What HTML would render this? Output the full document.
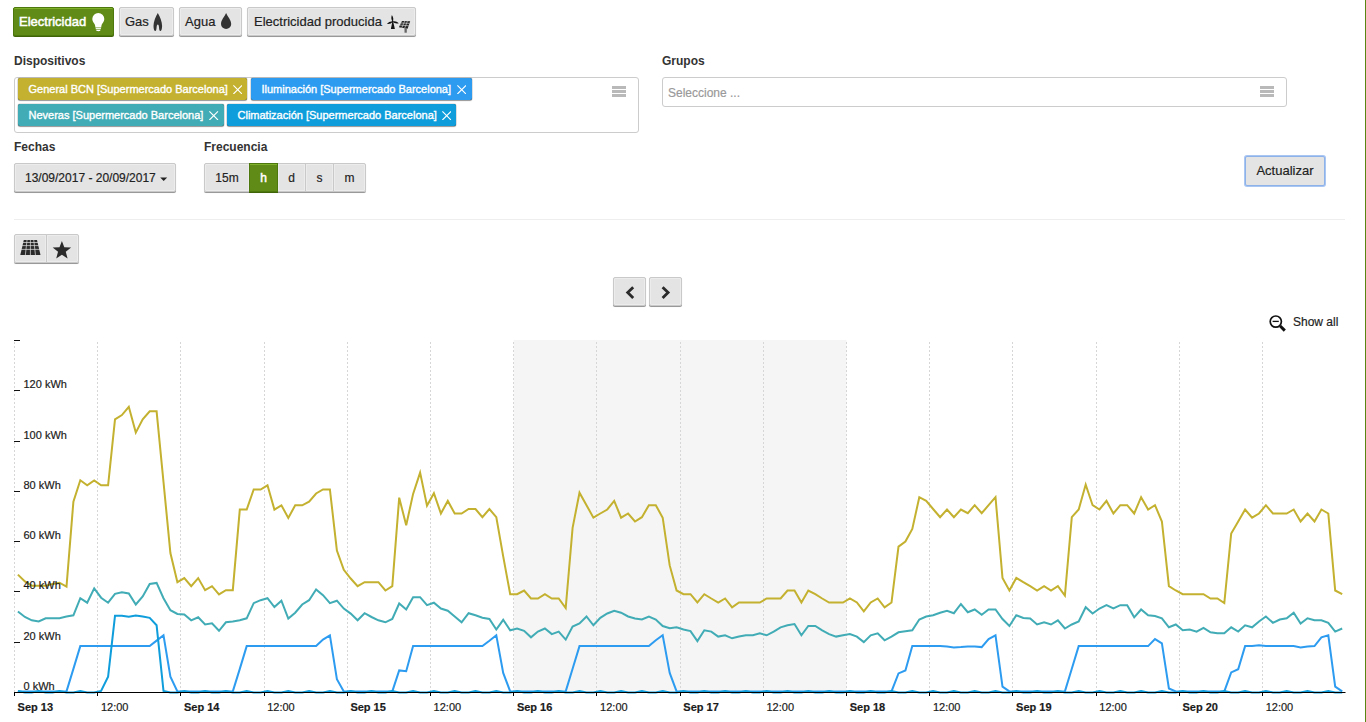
<!DOCTYPE html>
<html lang="es">
<head>
<meta charset="utf-8">
<title>Consumos</title>
<style>
*{box-sizing:border-box;margin:0;padding:0}
html,body{width:1366px;height:722px;overflow:hidden;background:#fff}
body{position:relative;font-family:"Liberation Sans",Arial,sans-serif;font-size:12px;color:#333;-webkit-text-stroke:.18px}
.abs{position:absolute}
.btn{position:absolute;height:29px;border:1px solid #c9c9c9;border-radius:2px;background:#e4e4e4;color:#222;font-size:12px;line-height:29px;text-align:center;box-shadow:0 1px 0 rgba(0,0,0,.33),0 1px 1px rgba(0,0,0,.12),inset 0 0 0 1px rgba(255,255,255,.3);white-space:nowrap}
.btn.b13{font-size:13px;line-height:27px}
.btn.ns{box-shadow:inset 0 0 0 1px rgba(255,255,255,.3)}
.btn.on.ns{box-shadow:inset 0 1px 0 #7fb22a}
.grp{position:absolute;height:29px;border-radius:2px;box-shadow:0 1px 0 rgba(0,0,0,.33),0 1px 1px rgba(0,0,0,.12)}
.btn.on{background:#5f8b16;border-color:#4d780d;color:#fff;box-shadow:0 1px 0 #3f6408,inset 0 1px 0 #7fb22a;-webkit-text-stroke:.5px #fff}
.btn svg{position:absolute}
.lbl{position:absolute;-webkit-text-stroke:0;font-size:12px;font-weight:bold;line-height:14px;color:#333;white-space:nowrap}
.box{position:absolute;border:1px solid #ccc;border-radius:3px;background:#fff}
.tag{position:absolute;height:22px;border-radius:2px;color:#fff;font-size:11px;line-height:22px;white-space:nowrap;padding-left:11px;box-shadow:0 0 1px rgba(0,0,0,.9),0 1px 1px rgba(0,0,0,.35);-webkit-text-stroke:.35px #fff}
.tag svg{position:absolute;right:5.3px;top:7px}
.burger{position:absolute;width:14px;height:11px}
.burger i{display:block;height:3px;background:#b9b9b9;margin-bottom:1px}
#rightline{position:absolute;left:1365px;top:0;width:1px;height:722px;background:#5a8512}
#chart{position:absolute;left:0;top:330px}
#chart text{font-family:"Liberation Sans",Arial,sans-serif;font-size:11px;fill:#1a1a1a;stroke:#1a1a1a;stroke-width:.18px}
#chart text.maj{font-weight:bold}
#icons{position:absolute;left:0;top:0}
</style>
</head>
<body>
<!-- type buttons -->
<div class="btn b13 on" style="left:13px;top:7px;width:101px;text-align:left;padding-left:5px">Electricidad</div>
<div class="btn b13" style="left:119px;top:7px;width:55px;text-align:left;padding-left:5px">Gas</div>
<div class="btn b13" style="left:179px;top:7px;width:63px;text-align:left;padding-left:5px">Agua</div>
<div class="btn b13" style="left:247px;top:7px;width:169px;text-align:left;padding-left:6px">Electricidad producida</div>

<!-- devices -->
<div class="lbl" style="left:14px;top:54px">Dispositivos</div>
<div class="box" style="left:14px;top:77px;width:625px;height:56px"></div>
<div class="tag" style="left:17.500px;top:78px;width:229.700px;background:#c3b12f">General BCN [Supermercado Barcelona]<svg width="9.400" height="9.400" viewBox="0 0 9.400 9.400"><path d="M.4 .4L9 9M9 .4L.4 9" stroke="#fff" stroke-width="1.1" fill="none"/></svg></div>
<div class="tag" style="left:250.500px;top:78px;width:221px;background:#2d9cf0">Iluminación [Supermercado Barcelona]<svg width="9.400" height="9.400" viewBox="0 0 9.400 9.400"><path d="M.4 .4L9 9M9 .4L.4 9" stroke="#fff" stroke-width="1.1" fill="none"/></svg></div>
<div class="tag" style="left:17.500px;top:104px;width:206.500px;background:#41acb5">Neveras [Supermercado Barcelona]<svg width="9.400" height="9.400" viewBox="0 0 9.400 9.400"><path d="M.4 .4L9 9M9 .4L.4 9" stroke="#fff" stroke-width="1.1" fill="none"/></svg></div>
<div class="tag" style="left:226.500px;top:104px;width:229.800px;background:#0f9ddb">Climatización [Supermercado Barcelona]<svg width="9.400" height="9.400" viewBox="0 0 9.400 9.400"><path d="M.4 .4L9 9M9 .4L.4 9" stroke="#fff" stroke-width="1.1" fill="none"/></svg></div>
<div class="burger" style="left:612px;top:86px"><i></i><i></i><i></i></div>

<!-- groups -->
<div class="lbl" style="left:662px;top:54px">Grupos</div>
<div class="box" style="left:662px;top:77px;width:625px;height:30px"></div>
<div class="abs" style="left:668px;top:86px;color:#999;line-height:14px">Seleccione ...</div>
<div class="burger" style="left:1260px;top:86px"><i></i><i></i><i></i></div>

<!-- dates / frequency -->
<div class="lbl" style="left:14px;top:140px">Fechas</div>
<div class="btn" style="left:14px;top:163px;width:162px;text-align:left;padding-left:10px">13/09/2017 - 20/09/2017</div>
<div class="lbl" style="left:204px;top:140px">Frecuencia</div>
<div class="grp" style="left:204px;top:163px;width:162px"></div>
<div class="btn ns" style="left:204px;top:163px;width:46px;border-radius:2px 0 0 2px">15m</div>
<div class="btn ns" style="left:277px;top:163px;width:29px;border-radius:0">d</div>
<div class="btn ns" style="left:305px;top:163px;width:29px;border-radius:0">s</div>
<div class="btn ns" style="left:333px;top:163px;width:33px;border-radius:0 2px 2px 0">m</div>
<div class="btn on ns" style="left:249px;top:163px;width:29px;border-radius:0;box-shadow:0 1px 0 #3f6408,inset 0 1px 0 #7fb22a">h</div>

<div class="btn b13" style="left:1245px;top:156px;width:80px;height:30px;border-color:#8db2ea;box-shadow:0 0 0 1px #a9c6f3">Actualizar</div>

<div class="abs" style="left:14px;top:219px;width:1331px;height:1px;background:#eee"></div>

<!-- icon buttons -->
<div class="grp" style="left:14px;top:234px;width:65px"></div>
<div class="btn ns" style="left:14px;top:234px;width:33px;border-radius:2px 0 0 2px"></div>
<div class="btn ns" style="left:46px;top:234px;width:33px;border-radius:0 2px 2px 0"></div>
<div class="btn" style="left:613px;top:277px;width:33px"></div>
<div class="btn" style="left:649px;top:277px;width:33px"></div>

<div class="abs" style="left:1293px;top:315px;line-height:14px;color:#222">Show all</div>

<!-- all icons in one overlay, page coordinates -->
<svg id="icons" width="1366" height="340" viewBox="0 0 1366 340">
<!-- bulb -->
<path d="M98.3 13.1a6 6 0 0 1 6 6c0 2.6-1.9 3.9-2.6 5.6-.3.8-.4 1.600-.5 2.800h-5.800c-.1-1.200-.2-2-.5-2.800-.7-1.700-2.600-3-2.600-5.600a6 6 0 0 1 6-6z" fill="#fff"/>
<rect x="95.700" y="28.100" width="5.200" height="1.100" fill="#fff"/>
<path d="M96.200 29.800h4.200v.5c0 .5-.9.900-2.100.9s-2.100-.4-2.100-.9z" fill="#fff"/>
<!-- flame -->
<path d="M157.800 13C160 17 162.100 21.500 162.100 26C162.100 29 161.300 31 160.300 31C159.500 31 159.100 29.500 159 27.200C158.900 25.500 158.500 24.400 157.800 24.400C157.100 24.400 156.700 25.500 156.600 27.200C156.500 29.500 156.100 31 155.300 31C154.300 31 153.500 29 153.500 26C153.500 21.500 155.600 17 157.800 13Z" fill="#333"/>
<!-- drop -->
<path d="M226.100 13C227.600 16.600 231.200 20 231.200 23.900A5.100 5.100 0 0 1 221 23.900C221 20 224.600 16.600 226.100 13Z" fill="#333"/>
<!-- wind turbine -->
<g fill="#111">
<path d="M392.70 21.70Q394.24 18.78 391.85 15.00Q390.48 19.26 392.70 21.70Z"/>
<path d="M392.70 21.70Q389.71 20.80 386.90 23.90Q391.05 24.36 392.70 21.70Z"/>
<path d="M392.70 21.70Q394.71 24.18 398.90 23.30Q395.65 20.50 392.70 21.70Z"/>
<path d="M392.200 22.300L393.300 22.300L394.900 29L390.900 29Z"/>
<circle cx="392.700" cy="21.700" r="1"/>
</g>
<!-- solar panel -->
<path d="M402 21L410.200 21.300L407.600 28.700L398.900 27.300Z" fill="#222"/>
<path d="M404.700 21.100L401.800 27.800M407.400 21.200L404.700 28.200M401 23L409.500 23.400M400 25.100L408.800 25.800" stroke="#e4e4e4" stroke-width=".6" fill="none"/>
<rect x="404.500" y="28.200" width="2.300" height="4.500" fill="#666"/>
<!-- caret -->
<path d="M160.200 177.400h7l-3.500 3.700z" fill="#222"/>
<!-- grid icon -->
<g fill="#2b2b2b">
<path d="M23.800 240L37 240L40.500 255L20.300 255Z"/>
</g>
<path d="M27.100 239.500L25.300 255.500M30.400 239.500L30.400 255.500M33.700 239.500L35.500 255.500M22 242.500H39M21 245.600H40M20 249.400H41" stroke="#e4e4e4" stroke-width=".7" fill="none"/>
<!-- star -->
<path d="M61.90 240.90L64.29 247.30L71.13 247.60L65.77 251.86L67.60 258.45L61.90 254.67L56.20 258.45L58.03 251.86L52.67 247.60L59.51 247.30Z" fill="#2b2b2b"/>
<!-- chevrons -->
<path d="M633.200 287.200L627.700 292.600L633.200 298" stroke="#2b2b2b" stroke-width="2.800" fill="none"/>
<path d="M662.600 287.200L668.100 292.600L662.600 298" stroke="#2b2b2b" stroke-width="2.800" fill="none"/>
<!-- zoom out -->
<circle cx="1275.800" cy="321.600" r="5.600" stroke="#111" stroke-width="1.700" fill="none"/>
<path d="M1272.600 321.400H1278.800" stroke="#111" stroke-width="1.300"/>
<path d="M1280.200 326L1284.800 330.600" stroke="#111" stroke-width="3"/>
</svg>

<svg id="chart" width="1366" height="392" viewBox="0 330 1366 392">
<rect x="513.7" y="340" width="332.8" height="352" fill="#f5f5f5"/>
<path d="M14.5 342V692 M97.5 342V692 M180.5 342V692 M264.5 342V692 M347.5 342V692 M430.5 342V692 M513.5 342V692 M596.5 342V692 M680.5 342V692 M763.5 342V692 M846.5 342V692 M929.5 342V692 M1012.5 342V692 M1096.5 342V692 M1179.5 342V692 M1262.5 342V692" stroke="#d6d6d6" stroke-width="1" stroke-dasharray="2,2" fill="none"/>
<path d="M14 642.5H20 M14 591.5H20 M14 541.5H20 M14 491.5H20 M14 441.5H20 M14 390.5H20 M14 340.5H20" stroke="#111" stroke-width="1" fill="none"/>
<polyline points="17.9,574.6 24.9,581.4 31.8,585.7 38.7,585.7 45.7,585.7 52.6,584.0 59.5,582.7 66.5,586.7 73.4,501.6 80.3,480.3 87.2,485.3 94.2,480.5 101.1,485.3 108.1,485.3 115.0,419.3 121.9,415.1 128.8,406.8 135.8,432.6 142.7,419.3 149.7,411.3 156.6,411.3 163.5,482.0 170.4,553.1 177.4,582.2 184.3,578.1 191.2,586.2 198.2,578.1 205.1,590.2 212.0,586.2 219.0,594.4 225.9,590.2 232.8,590.2 239.8,509.6 246.7,509.6 253.7,489.5 260.6,489.5 267.5,485.3 274.4,509.6 281.4,505.3 288.3,517.9 295.2,505.3 302.2,505.3 309.1,501.6 316.1,493.5 323.0,489.5 329.9,489.5 336.9,550.5 343.8,569.8 350.7,578.5 357.6,586.2 364.6,582.2 371.5,582.2 378.4,582.2 385.4,590.5 392.3,586.2 399.2,497.7 406.2,525.3 413.1,493.9 420.1,472.6 427.0,505.7 433.9,493.2 440.9,513.5 447.8,500.9 454.7,513.5 461.6,513.5 468.6,509.0 475.5,509.0 482.4,517.2 489.4,509.0 496.3,517.2 503.2,556.4 510.2,594.2 517.1,594.2 524.1,590.5 531.0,598.5 537.9,598.5 544.9,594.2 551.8,598.5 558.7,598.5 565.7,608.0 572.6,527.8 579.5,492.7 586.5,505.2 593.4,517.7 600.3,513.5 607.3,509.5 614.2,500.9 621.1,517.7 628.1,513.5 635.0,521.5 641.9,517.2 648.9,505.2 655.8,505.2 662.7,517.7 669.7,565.4 676.6,590.5 683.5,594.2 690.5,594.2 697.4,602.5 704.3,594.2 711.3,598.5 718.2,602.5 725.1,598.5 732.1,607.3 739.0,602.5 745.9,602.5 752.9,602.5 759.8,602.5 766.7,598.5 773.7,598.5 780.6,598.5 787.5,590.5 794.5,590.5 801.4,602.5 808.3,590.5 815.3,594.2 822.2,598.5 829.1,602.5 836.1,602.5 843.0,602.5 849.9,598.5 856.9,602.5 863.8,611.3 870.7,602.5 877.7,598.5 884.6,607.3 891.5,602.5 898.5,546.6 905.4,541.6 912.3,529.0 919.3,497.2 926.2,500.9 933.1,509.0 940.1,517.2 947.0,509.5 953.9,517.2 960.9,509.5 967.8,513.2 974.7,505.2 981.7,513.2 988.6,505.2 995.5,497.2 1002.5,577.9 1009.4,590.5 1016.3,577.9 1023.3,582.2 1030.2,586.2 1037.1,590.5 1044.1,586.2 1051.0,590.5 1057.9,586.2 1064.9,595.5 1071.8,517.2 1078.7,509.5 1085.7,484.6 1092.6,505.2 1099.5,509.5 1106.5,500.9 1113.4,513.5 1120.3,505.2 1127.2,505.2 1134.2,513.5 1141.1,497.2 1148.1,509.5 1155.0,505.2 1161.9,521.5 1168.9,586.2 1175.8,590.5 1182.7,594.2 1189.7,594.2 1196.6,594.2 1203.5,594.2 1210.5,598.5 1217.4,598.5 1224.3,603.0 1231.2,533.5 1238.2,521.5 1245.1,509.5 1252.1,517.7 1259.0,513.5 1265.9,505.2 1272.9,513.5 1279.8,513.5 1286.7,513.5 1293.7,509.5 1300.6,521.5 1307.5,513.5 1314.5,521.5 1321.4,509.5 1328.3,513.5 1335.2,590.5 1342.2,594.2" fill="none" stroke="#c3b12f" stroke-width="2" stroke-linejoin="miter" stroke-linecap="butt"/>
<polyline points="17.9,611.5 24.9,617.0 31.8,620.3 38.7,621.5 45.7,618.3 52.6,618.3 59.5,618.3 66.5,616.5 73.4,615.3 80.3,598.2 87.2,602.7 94.2,588.4 101.1,597.7 108.1,602.7 115.0,593.9 121.9,592.2 128.8,593.4 135.8,604.5 142.7,596.4 149.7,583.9 156.6,582.9 163.5,598.2 170.4,610.2 177.4,614.0 184.3,614.5 191.2,620.3 198.2,617.3 205.1,624.5 212.0,623.3 219.0,630.8 225.9,622.3 232.8,621.5 239.8,620.3 246.7,618.3 253.7,603.2 260.6,600.2 267.5,598.2 274.4,607.0 281.4,600.7 288.3,618.5 295.2,612.7 302.2,604.5 309.1,600.2 316.1,589.4 323.0,595.2 329.9,603.2 336.9,600.7 343.8,608.6 350.7,613.6 357.6,620.3 364.6,613.2 371.5,617.0 378.4,620.3 385.4,622.3 392.3,619.0 399.2,603.5 406.2,609.5 413.1,597.2 420.1,597.2 427.0,605.2 433.9,602.7 440.9,608.5 447.8,610.7 454.7,616.5 461.6,622.3 468.6,613.2 475.5,615.3 482.4,617.8 489.4,619.0 496.3,629.5 503.2,619.8 510.2,630.3 517.1,628.5 524.1,630.8 531.0,637.3 537.9,631.6 544.9,628.5 551.8,634.1 558.7,631.6 565.7,639.6 572.6,626.5 579.5,623.5 586.5,616.5 593.4,625.3 600.3,617.8 607.3,613.5 614.2,610.7 621.1,612.7 628.1,616.5 635.0,618.5 641.9,619.5 648.9,616.5 655.8,619.5 662.7,626.0 669.7,628.3 676.6,627.3 683.5,629.5 690.5,631.1 697.4,641.1 704.3,630.3 711.3,631.6 718.2,636.6 725.1,635.3 732.1,638.3 739.0,636.6 745.9,635.3 752.9,635.3 759.8,633.3 766.7,635.3 773.7,631.6 780.6,627.3 787.5,625.3 794.5,624.0 801.4,635.3 808.3,626.0 815.3,626.0 822.2,630.3 829.1,634.1 836.1,636.6 843.0,635.3 849.9,634.1 856.9,636.6 863.8,642.1 870.7,635.3 877.7,633.3 884.6,640.3 891.5,636.6 898.5,632.3 905.4,631.3 912.3,630.3 919.3,619.5 926.2,616.5 933.1,615.3 940.1,612.7 947.0,610.7 953.9,613.2 960.9,604.0 967.8,612.2 974.7,609.5 981.7,614.8 988.6,609.5 995.5,609.5 1002.5,619.0 1009.4,626.0 1016.3,615.3 1023.3,618.0 1030.2,618.5 1037.1,624.5 1044.1,622.3 1051.0,624.5 1057.9,620.3 1064.9,628.5 1071.8,624.5 1078.7,621.5 1085.7,607.2 1092.6,613.5 1099.5,608.5 1106.5,605.2 1113.4,608.5 1120.3,605.2 1127.2,605.2 1134.2,617.3 1141.1,609.5 1148.1,615.3 1155.0,616.0 1161.9,618.3 1168.9,627.3 1175.8,624.5 1182.7,630.3 1189.7,629.5 1196.6,631.6 1203.5,627.8 1210.5,632.3 1217.4,633.3 1224.3,633.3 1231.2,627.3 1238.2,631.6 1245.1,625.3 1252.1,627.3 1259.0,621.5 1265.9,616.5 1272.9,622.8 1279.8,619.5 1286.7,618.3 1293.7,612.7 1300.6,623.5 1307.5,618.3 1314.5,620.3 1321.4,620.3 1328.3,622.8 1335.2,631.6 1342.2,628.5" fill="none" stroke="#41acb5" stroke-width="2" stroke-linejoin="miter" stroke-linecap="butt"/>
<polyline points="17.9,691.4 24.9,691.4 31.8,691.4 38.7,691.4 45.7,691.4 52.6,691.4 59.5,691.4 66.5,691.4 73.4,668.9 80.3,646.1 87.2,646.1 94.2,646.1 101.1,646.1 108.1,646.1 115.0,646.1 121.9,646.1 128.8,646.1 135.8,646.1 142.7,646.1 149.7,646.1 156.6,640.6 163.5,635.3 170.4,676.7 177.4,691.4 184.3,691.4 191.2,691.4 198.2,691.4 205.1,691.4 212.0,691.4 219.0,691.4 225.9,691.4 232.8,691.4 239.8,668.9 246.7,646.1 253.7,646.1 260.6,646.1 267.5,646.1 274.4,646.1 281.4,646.1 288.3,646.1 295.2,646.1 302.2,646.1 309.1,646.1 316.1,646.1 323.0,639.6 329.9,635.3 336.9,679.2 343.8,691.4 350.7,691.4 357.6,691.4 364.6,691.4 371.5,691.4 378.4,691.4 385.4,691.4 392.3,691.4 399.2,670.4 406.2,671.2 413.1,646.1 420.1,646.1 427.0,646.1 433.9,646.1 440.9,646.1 447.8,646.1 454.7,646.1 461.6,646.1 468.6,646.1 475.5,646.1 482.4,646.1 489.4,640.8 496.3,635.3 503.2,672.9 510.2,691.4 517.1,691.4 524.1,691.4 531.0,691.4 537.9,691.4 544.9,691.4 551.8,691.4 558.7,691.4 565.7,691.4 572.6,668.7 579.5,646.1 586.5,646.1 593.4,646.1 600.3,646.1 607.3,646.1 614.2,646.1 621.1,646.1 628.1,646.1 635.0,646.1 641.9,646.1 648.9,646.1 655.8,640.3 662.7,635.3 669.7,672.9 676.6,691.4 683.5,691.4 690.5,691.4 697.4,691.4 704.3,691.4 711.3,691.4 718.2,691.4 725.1,691.4 732.1,691.4 739.0,691.4 745.9,691.4 752.9,691.4 759.8,691.4 766.7,691.4 773.7,691.4 780.6,691.4 787.5,691.4 794.5,691.4 801.4,691.4 808.3,691.4 815.3,691.4 822.2,691.4 829.1,691.4 836.1,691.4 843.0,691.4 849.9,691.4 856.9,691.4 863.8,691.4 870.7,691.4 877.7,691.4 884.6,691.4 891.5,691.4 898.5,673.4 905.4,670.4 912.3,646.1 919.3,646.1 926.2,646.1 933.1,646.1 940.1,646.1 947.0,646.6 953.9,647.4 960.9,647.1 967.8,646.4 974.7,646.4 981.7,647.1 988.6,639.1 995.5,635.3 1002.5,686.7 1009.4,691.4 1016.3,691.4 1023.3,691.4 1030.2,691.4 1037.1,691.4 1044.1,691.4 1051.0,691.4 1057.9,691.4 1064.9,691.4 1071.8,668.7 1078.7,646.1 1085.7,646.1 1092.6,646.1 1099.5,646.1 1106.5,646.1 1113.4,646.1 1120.3,646.1 1127.2,646.1 1134.2,646.1 1141.1,646.1 1148.1,646.1 1155.0,639.1 1161.9,643.3 1168.9,688.5 1175.8,691.4 1182.7,691.4 1189.7,691.4 1196.6,691.4 1203.5,691.4 1210.5,691.4 1217.4,691.4 1224.3,691.4 1231.2,672.4 1238.2,669.2 1245.1,646.1 1252.1,646.1 1259.0,645.3 1265.9,646.1 1272.9,646.1 1279.8,646.1 1286.7,646.1 1293.7,646.1 1300.6,647.4 1307.5,646.4 1314.5,646.1 1321.4,637.3 1328.3,635.3 1335.2,686.7 1342.2,691.4" fill="none" stroke="#2d9cf0" stroke-width="2" stroke-linejoin="miter" stroke-linecap="butt"/>
<polyline points="17.9,690.9 24.9,692.4 31.8,692.4 38.7,690.9 45.7,692.4 52.6,692.4 59.5,690.9 66.5,692.4 73.4,692.4 80.3,690.9 87.2,692.4 94.2,692.4 101.1,690.9 108.1,676.7 115.0,615.8 121.9,615.8 128.8,616.8 135.8,615.5 142.7,616.5 149.7,617.8 156.6,625.3 163.5,690.9 170.4,692.4 177.4,692.4 184.3,690.9 191.2,692.4 198.2,692.4 205.1,690.9 212.0,692.4 219.0,692.4 225.9,690.9 232.8,692.4 239.8,692.4 246.7,690.9 253.7,692.4 260.6,692.4 267.5,690.9 274.4,692.4 281.4,692.4 288.3,690.9 295.2,692.4 302.2,692.4 309.1,690.9 316.1,692.4 323.0,692.4 329.9,690.9 336.9,692.4 343.8,692.4 350.7,690.9 357.6,692.4 364.6,692.4 371.5,690.9 378.4,692.4 385.4,692.4 392.3,690.9 399.2,692.4 406.2,692.4 413.1,690.9 420.1,692.4 427.0,692.4 433.9,690.9 440.9,692.4 447.8,692.4 454.7,690.9 461.6,692.4 468.6,692.4 475.5,690.9 482.4,692.4 489.4,692.4 496.3,690.9 503.2,692.4 510.2,692.4 517.1,690.9 524.1,692.4 531.0,692.4 537.9,690.9 544.9,692.4 551.8,692.4 558.7,690.9 565.7,692.4 572.6,692.4 579.5,690.9 586.5,692.4 593.4,692.4 600.3,690.9 607.3,692.4 614.2,692.4 621.1,690.9 628.1,692.4 635.0,692.4 641.9,690.9 648.9,692.4 655.8,692.4 662.7,690.9 669.7,692.4 676.6,692.4 683.5,690.9 690.5,692.4 697.4,692.4 704.3,690.9 711.3,692.4 718.2,692.4 725.1,690.9 732.1,692.4 739.0,692.4 745.9,690.9 752.9,692.4 759.8,692.4 766.7,690.9 773.7,692.4 780.6,692.4 787.5,690.9 794.5,692.4 801.4,692.4 808.3,690.9 815.3,692.4 822.2,692.4 829.1,690.9 836.1,692.4 843.0,692.4 849.9,690.9 856.9,692.4 863.8,692.4 870.7,690.9 877.7,692.4 884.6,692.4 891.5,690.9 898.5,692.4 905.4,692.4 912.3,690.9 919.3,692.4 926.2,692.4 933.1,690.9 940.1,692.4 947.0,692.4 953.9,690.9 960.9,692.4 967.8,692.4 974.7,690.9 981.7,692.4 988.6,692.4 995.5,690.9 1002.5,692.4 1009.4,692.4 1016.3,690.9 1023.3,692.4 1030.2,692.4 1037.1,690.9 1044.1,692.4 1051.0,692.4 1057.9,690.9 1064.9,692.4 1071.8,692.4 1078.7,690.9 1085.7,692.4 1092.6,692.4 1099.5,690.9 1106.5,692.4 1113.4,692.4 1120.3,690.9 1127.2,692.4 1134.2,692.4 1141.1,690.9 1148.1,692.4 1155.0,692.4 1161.9,690.9 1168.9,692.4 1175.8,692.4 1182.7,690.9 1189.7,692.4 1196.6,692.4 1203.5,690.9 1210.5,692.4 1217.4,692.4 1224.3,690.9 1231.2,692.4 1238.2,692.4 1245.1,690.9 1252.1,692.4 1259.0,692.4 1265.9,690.9 1272.9,692.4 1279.8,692.4 1286.7,690.9 1293.7,692.4 1300.6,692.4 1307.5,690.9 1314.5,692.4 1321.4,692.4 1328.3,690.9 1335.2,692.4 1342.2,692.4" fill="none" stroke="#0f9ddb" stroke-width="2" stroke-linejoin="miter" stroke-linecap="butt"/>
<path d="M14 692.5H1345.5" stroke="#000" stroke-width="1" fill="none"/>
<path d="M14.5 692V696 M97.5 692V696 M180.5 692V696 M264.5 692V696 M347.5 692V696 M430.5 692V696 M513.5 692V696 M596.5 692V696 M680.5 692V696 M763.5 692V696 M846.5 692V696 M929.5 692V696 M1012.5 692V696 M1096.5 692V696 M1179.5 692V696 M1262.5 692V696" stroke="#000" stroke-width="1" fill="none"/>
<text class="maj" x="17.6" y="710.5">Sep 13</text>
<text x="100.9" y="710.5">12:00</text>
<text class="maj" x="184.0" y="710.5">Sep 14</text>
<text x="267.2" y="710.5">12:00</text>
<text class="maj" x="350.4" y="710.5">Sep 15</text>
<text x="433.6" y="710.5">12:00</text>
<text class="maj" x="516.9" y="710.5">Sep 16</text>
<text x="600.1" y="710.5">12:00</text>
<text class="maj" x="683.3" y="710.5">Sep 17</text>
<text x="766.5" y="710.5">12:00</text>
<text class="maj" x="849.7" y="710.5">Sep 18</text>
<text x="932.9" y="710.5">12:00</text>
<text class="maj" x="1016.1" y="710.5">Sep 19</text>
<text x="1099.3" y="710.5">12:00</text>
<text class="maj" x="1182.5" y="710.5">Sep 20</text>
<text x="1265.7" y="710.5">12:00</text>
<text x="23.5" y="689.9">0 kWh</text>
<text x="23.5" y="639.9">20 kWh</text>
<text x="23.5" y="588.9">40 kWh</text>
<text x="23.5" y="538.9">60 kWh</text>
<text x="23.5" y="488.9">80 kWh</text>
<text x="23.5" y="438.9">100 kWh</text>
<text x="23.5" y="387.9">120 kWh</text>
</svg>
<div id="rightline"></div>
</body>
</html>
